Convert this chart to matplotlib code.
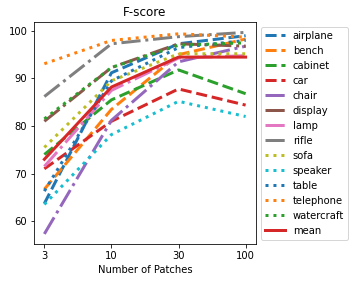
import matplotlib
matplotlib.use("Agg")
import matplotlib.pyplot as plt

patches = ["3", "10", "30", "100"]

categories = ["airplane", "bench", "cabinet", "car", "chair", "display", "lamp",
              "rifle", "sofa", "speaker", "table", "telephone", "watercraft"]

airplane = [63.7, 91.2, 97.3, 99.0]
bench = [66.7, 83.5, 95.0, 98.3]
cabinet = [74.0, 85.5, 91.8, 86.8]
car = [71.0, 81.0, 87.8, 84.4]
chair = [57.3, 81.2, 93.5, 96.8]
display = [81.0, 92.3, 97.3, 96.8]
lamp = [71.5, 87.5, 94.3, 94.8]
rifle = [86.2, 97.3, 98.8, 99.7]
sofa = [75.5, 89.5, 95.2, 95.2]
speaker = [63.5, 78.2, 85.2, 82.0]
table = [66.3, 89.5, 96.5, 98.0]
telephone = [93.1, 98.0, 99.4, 98.7]
watercraft = [81.5, 92.3, 97.0, 97.5]
mean = [73.0, 88.2, 94.5, 94.5]

series = [airplane, bench, cabinet, car, chair, display, lamp,
          rifle, sofa, speaker, table, telephone, watercraft]
styles = ["--"] * 4 + ["-."] * 4 + [":"] * 5

fig = plt.figure(figsize=(358 / 72, 283 / 72), dpi=72)
ax = fig.add_axes([0.0958, 0.1378, 0.6184, 0.7834])

x = list(range(len(patches)))
for name, vals, ls in zip(categories, series, styles):
    ax.plot(x, vals, linestyle=ls, linewidth=3, label=name)
ax.plot(x, mean, linestyle="-", linewidth=3, color="C3", label="mean")

ax.set_xticks(x)
ax.set_xticklabels(patches)
ax.set_xlabel("Number of Patches")
ax.set_title("F-score")
ax.legend(loc="center left", bbox_to_anchor=(1, 0.5))

fig.savefig("out.png", dpi=72)
